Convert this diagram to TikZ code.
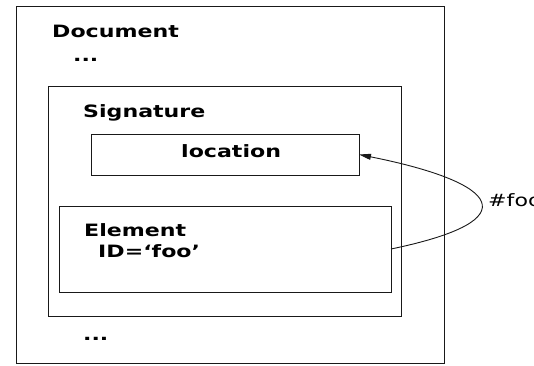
\documentclass[tikz,border=0pt]{standalone}
\usepackage{fontspec}
\setmainfont{DejaVu Sans}[FakeStretch=1.3]
\usetikzlibrary{arrows.meta}
\begin{document}
\begin{tikzpicture}[x=1pt,y=-1pt,
  box/.style={draw=black!90,line width=0.9pt,inner sep=0pt,outer sep=0pt,anchor=north west},
  lbl/.style={inner sep=0pt,anchor=base west,font=\fontsize{17}{20}\selectfont\bfseries},
  plain/.style={inner sep=0pt,anchor=base west,font=\fontsize{17}{20}\selectfont},
  link/.style={draw=black!90,line width=0.9pt,-{Triangle[length=12pt,width=6pt]}}]
\useasboundingbox (0,0) rectangle (534,365);
\node[box,minimum width=428pt,minimum height=357pt] (doc) at (16,6) {};
\node[box,minimum width=353pt,minimum height=230pt] (sig) at (48,86) {};
\node[box,minimum width=268pt,minimum height=41pt] (loc) at (91,134) {};
\node[box,minimum width=332pt,minimum height=86pt] (elem) at (59,206) {};
\node[lbl] (tdoc) at (52,37) {Document};
\node[lbl] (tdots1) at (73,61) {...};
\node[lbl] (tsig) at (83,117) {Signature};
\node[lbl] (tloc) at (181,157) {location};
\node[lbl] (telem) at (84,236) {Element};
\node[lbl] (tid) at (98,257) {ID=‘foo’};
\node[lbl] (tdots2) at (83,340) {...};
\node[plain] (thash) at (488,206) {\#foo};
\draw[link] (elem.east) .. controls +(140,-29) and +(140,28) .. (loc.east);
\end{tikzpicture}
\end{document}
